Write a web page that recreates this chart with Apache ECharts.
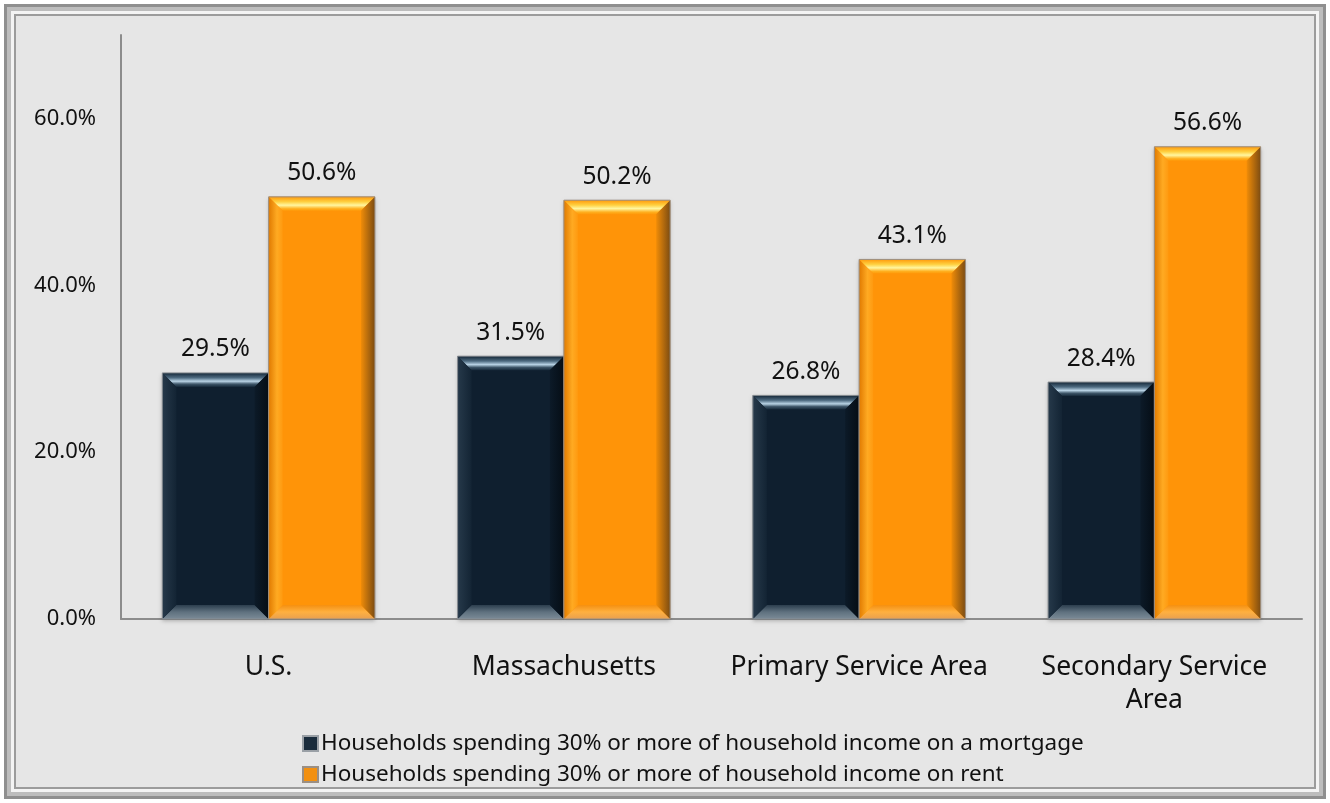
<!DOCTYPE html>
<html>
<head>
<meta charset="utf-8">
<script src="https://cdn.jsdelivr.net/npm/echarts@6/dist/echarts.min.js"></script>
<style>
  html, body { margin: 0; padding: 0; background: #ffffff; }
  #chart { width: 1330px; height: 803px; }
</style>
</head>
<body>
<div id="chart"></div>
<script>
// Housing cost burden by area
const categories = ['U.S.', 'Massachusetts', 'Primary Service Area', 'Secondary Service\nArea'];
const mortgageShare = [29.5, 31.5, 26.8, 28.4];
const rentShare = [50.6, 50.2, 43.1, 56.6];
const seriesNames = [
  'Households spending 30% or more of household income on a mortgage',
  'Households spending 30% or more of household income on rent'
];

const FONT = '"Noto Sans", "Open Sans", sans-serif';

// Bevel palettes for the two bar styles
const palettes = [
  {
    face: '#0f1f2f',
    outline: '#8a8f94',
    top: [[0, '#142636'], [0.35, '#4d6a80'], [0.6, '#b8d2e4'], [0.8, '#3d5568'], [1, '#16293a']],
    left: [[0, '#26394a'], [1, '#132434']],
    right: [[0, '#0c1a28'], [1, '#050d15']],
    bottom: [[0, '#2c3e4e'], [0.5, '#5f717f'], [1, '#7b8b97']]
  },
  {
    face: '#ff9408',
    outline: '#9a8f84',
    top: [[0, '#ff9a0c'], [0.35, '#ffd040'], [0.6, '#fff6a0'], [0.85, '#ffb020'], [1, '#ff9a0a']],
    left: [[0, '#e07a00'], [0.6, '#ffaa22'], [1, '#ff9a10']],
    right: [[0, '#f08c08'], [1, '#7c4c12']],
    bottom: [[0, '#f59010'], [0.5, '#ffb040'], [1, '#e8a050']]
  }
];

function grad(x1, y1, x2, y2, stops) {
  return new echarts.graphic.LinearGradient(x1, y1, x2, y2,
    stops.map(s => ({ offset: s[0], color: s[1] })));
}

function bevelBar(seriesIdx) {
  return function (params, api) {
    const idx = api.value(0);
    const val = api.value(1);
    const base = api.coord([idx, 0]);
    const tip = api.coord([idx, val]);
    const band = api.size([1, 0])[0];
    const bw = band * 0.36;
    const x = base[0] + (seriesIdx === 0 ? -bw : 0);
    const y = tip[1];
    const h = base[1] - tip[1];
    const b = Math.min(14, h / 2, bw / 2);
    const p = palettes[seriesIdx];
    const x2 = x + bw, y2 = y + h;
    return {
      type: 'group',
      children: [
        { type: 'rect', shape: { x: x, y: y, width: bw, height: h },
          style: { fill: p.face, shadowBlur: 4, shadowColor: 'rgba(0,0,0,0.25)', shadowOffsetY: 2 } },
        { type: 'polygon', shape: { points: [[x, y], [x2, y], [x2 - b, y + b], [x + b, y + b]] },
          style: { fill: grad(0, 0, 0, 1, p.top) } },
        { type: 'polygon', shape: { points: [[x, y2], [x2, y2], [x2 - b, y2 - b], [x + b, y2 - b]] },
          style: { fill: grad(0, 0, 0, 1, p.bottom) } },
        { type: 'polygon', shape: { points: [[x, y], [x + b, y + b], [x + b, y2 - b], [x, y2]] },
          style: { fill: grad(0, 0, 1, 0, p.left) } },
        { type: 'polygon', shape: { points: [[x2, y], [x2 - b, y + b], [x2 - b, y2 - b], [x2, y2]] },
          style: { fill: grad(0, 0, 1, 0, p.right) } },
        { type: 'rect', shape: { x: x, y: y, width: bw, height: h },
          style: { fill: 'none', stroke: p.outline, lineWidth: 1 } },
        { type: 'text', x: x + bw / 2, y: y - 11,
          style: { text: val.toFixed(1) + '%', align: 'center', verticalAlign: 'bottom',
                   fontSize: 24.5, fontFamily: FONT, fill: '#111111' } }
      ]
    };
  };
}

const W = 1330, H = 803;
const frame = [
  { type: 'rect', z: -10, shape: { x: 0, y: 0, width: W, height: H }, style: { fill: '#ffffff' } },
  { type: 'rect', z: -9, shape: { x: 4, y: 4, width: W - 8, height: H - 8 }, style: { fill: '#8f8f8f' } },
  { type: 'rect', z: -8, shape: { x: 7, y: 7, width: W - 14, height: H - 14 }, style: { fill: '#bdbdbd' } },
  { type: 'rect', z: -7, shape: { x: 11, y: 11, width: W - 22, height: H - 22 }, style: { fill: '#f4f4f4' } },
  { type: 'rect', z: -6, shape: { x: 15, y: 15, width: W - 30, height: H - 30 },
    style: { fill: '#e6e6e6', stroke: '#9c9c9c', lineWidth: 2 } }
];

const chart = echarts.init(document.getElementById('chart'), null, { renderer: 'canvas' });
chart.setOption({
  animation: false,
  backgroundColor: '#ffffff',
  graphic: frame,
  grid: { left: 121, right: 28, top: 35, bottom: 184, containLabel: false },
  xAxis: {
    type: 'category',
    data: categories,
    axisLine: { lineStyle: { color: '#8c8c8c', width: 2 } },
    axisTick: { show: false },
    axisLabel: { fontSize: 26.5, fontFamily: FONT, color: '#111111', margin: 32, lineHeight: 33, interval: 0 }
  },
  yAxis: {
    type: 'value',
    min: 0, max: 70, interval: 20,
    axisLine: { show: true, lineStyle: { color: '#8c8c8c', width: 2 } },
    axisTick: { show: false },
    splitLine: { show: false },
    axisLabel: { fontSize: 22, fontFamily: FONT, color: '#111111', margin: 25, showMaxLabel: false,
                 formatter: v => v.toFixed(1) + '%' }
  },
  legend: {
    orient: 'vertical',
    left: 297, top: 727,
    itemWidth: 15, itemHeight: 15, itemGap: 8,
    icon: 'rect',
    textStyle: { fontSize: 22.5, fontFamily: FONT, color: '#111111', padding: [0, 0, 0, -2] },
    data: seriesNames
  },
  series: [
    {
      type: 'custom', name: seriesNames[0],
      itemStyle: { color: '#1a2c3c', borderColor: '#9aa0a6', borderWidth: 1 },
      renderItem: bevelBar(0),
      data: mortgageShare.map((v, i) => [i, v])
    },
    {
      type: 'custom', name: seriesNames[1],
      itemStyle: { color: '#f29010', borderColor: '#9a8f84', borderWidth: 1 },
      renderItem: bevelBar(1),
      data: rentShare.map((v, i) => [i, v])
    }
  ]
});
</script>
</body>
</html>
